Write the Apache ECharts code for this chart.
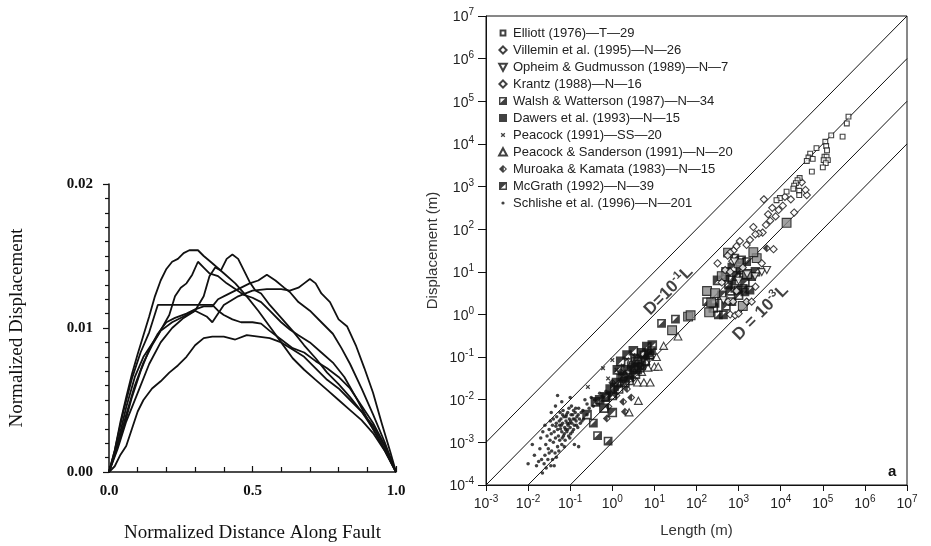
<!DOCTYPE html>
<html>
<head>
<meta charset="utf-8">
<script src="https://cdn.jsdelivr.net/npm/echarts@6/dist/echarts.min.js"></script>
<style>
  html, body { margin: 0; padding: 0; background: #fff; }
  #chart { width: 931px; height: 546px; }
</style>
</head>
<body>
<div id="chart"></div>
<script>
// ---------- Left panel: normalized displacement profiles [distance, displacement] ----------
const profileA = [[0,0],[0.02,0.0015],[0.04,0.0035],[0.06,0.0052],[0.08,0.0068],[0.1,0.0082],[0.12,0.0095],[0.14,0.0108],[0.16,0.0122],[0.18,0.0133],[0.2,0.0141],[0.22,0.0146],[0.24,0.0148],[0.26,0.0152],[0.28,0.0154],[0.31,0.0154],[0.33,0.0150],[0.36,0.0145],[0.4,0.0138],[0.44,0.0131],[0.48,0.0122],[0.52,0.0112],[0.56,0.0101],[0.6,0.0090],[0.64,0.0079],[0.68,0.0071],[0.72,0.0064],[0.76,0.0057],[0.8,0.0050],[0.84,0.0043],[0.88,0.0036],[0.92,0.0027],[0.96,0.0015],[1,0]];
const profileB = [[0,0],[0.03,0.0020],[0.06,0.0045],[0.09,0.0066],[0.12,0.0080],[0.15,0.0089],[0.17,0.0095],[0.19,0.0102],[0.21,0.0109],[0.23,0.0122],[0.25,0.0128],[0.27,0.0131],[0.29,0.0137],[0.31,0.0146],[0.33,0.0142],[0.35,0.0138],[0.38,0.0136],[0.41,0.0131],[0.44,0.0127],[0.47,0.0123],[0.5,0.0121],[0.53,0.0118],[0.56,0.0112],[0.6,0.0104],[0.63,0.0099],[0.66,0.0095],[0.7,0.0090],[0.74,0.0083],[0.78,0.0076],[0.82,0.0066],[0.86,0.0052],[0.9,0.0037],[0.95,0.0019],[1,0]];
const profileC = [[0,0],[0.03,0.0016],[0.06,0.0035],[0.1,0.0055],[0.14,0.0075],[0.18,0.0090],[0.22,0.0100],[0.26,0.0107],[0.3,0.0112],[0.33,0.0122],[0.35,0.0136],[0.37,0.0142],[0.39,0.0140],[0.41,0.0148],[0.43,0.0151],[0.45,0.0148],[0.47,0.0140],[0.49,0.0132],[0.51,0.0126],[0.53,0.0124],[0.56,0.0116],[0.6,0.0107],[0.64,0.0098],[0.68,0.0088],[0.72,0.0079],[0.76,0.0069],[0.8,0.0061],[0.84,0.0052],[0.88,0.0042],[0.92,0.0030],[0.96,0.0016],[1,0]];
const profileD = [[0,0],[0.02,0.0012],[0.05,0.0030],[0.08,0.0052],[0.11,0.0070],[0.14,0.0085],[0.17,0.0096],[0.2,0.0104],[0.23,0.0107],[0.27,0.0110],[0.3,0.0113],[0.33,0.0115],[0.36,0.0115],[0.38,0.0120],[0.41,0.0123],[0.45,0.0127],[0.49,0.0131],[0.52,0.0133],[0.55,0.0137],[0.58,0.0133],[0.61,0.0128],[0.63,0.0125],[0.66,0.0118],[0.7,0.0112],[0.74,0.0104],[0.78,0.0096],[0.81,0.0086],[0.84,0.0075],[0.88,0.0058],[0.92,0.0040],[0.96,0.0021],[1,0]];
const profileE = [[0,0],[0.03,0.0018],[0.06,0.0040],[0.09,0.0060],[0.12,0.0076],[0.15,0.0088],[0.18,0.0098],[0.22,0.0104],[0.26,0.0108],[0.3,0.0112],[0.34,0.0108],[0.36,0.0104],[0.4,0.0116],[0.45,0.0122],[0.5,0.0126],[0.55,0.0127],[0.6,0.0127],[0.63,0.0126],[0.66,0.0128],[0.68,0.0131],[0.7,0.0134],[0.72,0.0131],[0.74,0.0124],[0.77,0.0118],[0.8,0.0106],[0.83,0.0101],[0.86,0.0088],[0.89,0.0072],[0.92,0.0055],[0.95,0.0034],[0.98,0.0014],[1,0]];
const profileF = [[0,0],[0.02,0.0015],[0.05,0.0042],[0.08,0.0065],[0.11,0.0083],[0.14,0.0097],[0.17,0.0116],[0.2,0.0116],[0.25,0.0116],[0.3,0.0116],[0.36,0.0116],[0.38,0.0112],[0.4,0.0109],[0.43,0.0106],[0.46,0.0104],[0.5,0.0104],[0.53,0.0103],[0.56,0.0098],[0.6,0.0092],[0.64,0.0086],[0.68,0.0083],[0.72,0.0077],[0.76,0.0072],[0.8,0.0066],[0.84,0.0058],[0.88,0.0046],[0.92,0.0034],[0.96,0.0019],[1,0]];
const profileG = [[0,0],[0.02,0.0004],[0.04,0.0012],[0.06,0.0018],[0.08,0.0030],[0.1,0.0042],[0.12,0.0050],[0.15,0.0058],[0.18,0.0063],[0.21,0.0069],[0.24,0.0074],[0.27,0.0080],[0.3,0.0088],[0.33,0.0093],[0.36,0.0094],[0.4,0.0094],[0.44,0.0092],[0.48,0.0095],[0.52,0.0094],[0.56,0.0093],[0.6,0.0090],[0.64,0.0085],[0.68,0.0080],[0.72,0.0072],[0.76,0.0064],[0.8,0.0058],[0.84,0.0050],[0.88,0.0042],[0.92,0.0032],[0.96,0.0018],[1,0]];
const profiles = [profileA, profileB, profileC, profileD, profileE, profileF, profileG];

// ---------- Right panel: fault data sets, [log10 length (m), log10 displacement (m)] ----------
const elliottLog = [[5.61,4.64],[5.57,4.48],[5.47,4.17],[5.06,4.05],[5.08,3.95],[5.10,3.85],[5.04,3.70],[5.09,3.70],[5.12,3.62],[5.02,3.62],[5.07,3.55],[4.70,3.77],[4.66,3.68],[4.62,3.60],[4.76,3.65],[4.74,3.35],[4.45,3.20],[4.40,3.15],[4.36,3.08],[4.32,3.02],[4.30,2.95],[4.44,2.90],[4.44,2.80],[4.14,2.88],[3.98,2.73],[3.90,2.68],[5.20,4.20],[4.85,3.90],[5.00,3.45]];
const villeminLog = [[4.62,2.80],[4.59,2.92],[4.50,3.10],[4.24,2.70],[4.10,2.76],[4.32,2.39],[3.95,2.45],[3.88,2.30],[3.80,2.50],[3.75,2.20],[3.70,2.35],[3.65,2.10],[3.57,1.92],[3.48,1.90],[3.40,1.88],[3.83,1.53],[3.27,1.75],[3.19,1.63],[3.03,1.72],[2.95,1.60],[2.88,1.50],[2.80,1.45],[2.74,1.38],[3.60,2.70],[4.05,2.55],[3.35,2.05]];
const opheimLog = [[2.64,0.34],[3.00,0.80],[3.20,0.95],[3.39,0.90],[3.55,1.00],[3.67,1.05],[2.90,1.25]];
const krantzLog = [[2.80,0.00],[2.92,-0.02],[3.00,0.02],[2.75,0.30],[2.87,0.30],[3.19,0.30],[3.31,0.30],[2.68,1.04],[2.80,1.00],[3.55,1.20],[2.95,0.55],[2.60,0.75],[3.10,1.10],[2.50,1.20],[2.85,1.25],[3.40,0.65]];
const walshLog = [[-0.35,-2.84],[-0.10,-2.97],[-0.45,-2.55],[1.17,-0.21],[1.50,-0.11],[0.93,-0.85],[0.85,-0.90],[0.75,-0.95],[0.55,-1.10],[0.60,-1.30],[0.40,-1.40],[0.20,-1.50],[0.05,-1.70],[-0.15,-1.95],[0.70,-1.20],[0.45,-1.20],[2.24,0.30],[2.44,0.26],[2.52,-0.01],[2.64,-0.01],[2.84,0.30],[3.11,0.61],[3.15,0.53],[2.91,1.32],[3.07,1.28],[3.19,1.24],[2.68,0.89],[2.84,0.81],[2.76,0.69],[2.91,0.61],[2.99,0.57],[3.27,0.57],[3.11,0.92],[3.31,0.89]];
const dawersLog = [[1.80,-0.05],[1.86,-0.02],[1.42,-0.37],[2.25,0.55],[2.44,0.50],[2.60,0.90],[3.43,1.32],[4.14,2.15],[3.35,1.46],[3.00,1.20],[2.30,0.05],[3.10,0.20],[2.35,0.28],[3.20,0.95],[2.75,1.45]];
const peacockLog = [[-0.58,-1.70],[-0.22,-1.26],[0.00,-1.07],[0.10,-1.30],[0.25,-1.20],[-0.10,-1.50],[0.35,-1.05],[0.50,-0.95]];
const sandersonLog = [[0.40,-2.30],[0.62,-2.03],[0.60,-1.60],[0.75,-1.60],[0.90,-1.60],[1.00,-1.23],[1.09,-1.23],[1.22,-0.74],[1.56,-0.52],[0.30,-1.40],[0.45,-1.15],[0.60,-1.00],[0.80,-1.10],[0.90,-0.95],[0.50,-1.30],[0.20,-1.60],[0.70,-1.35],[0.85,-1.25],[0.40,-1.50],[1.05,-1.00]];
const muroakaLog = [[-0.13,-2.44],[-0.09,-2.16],[0.30,-2.28],[0.26,-2.05],[0.10,-1.90],[0.35,-1.75],[0.00,-1.60],[0.50,-1.50],[0.20,-1.35],[0.65,-1.20],[3.67,1.55],[3.20,0.30],[0.80,-1.00],[-0.05,-1.85],[0.45,-1.95]];
const mcgrathLog = [[-0.30,-2.00],[-0.40,-2.05],[-0.17,-1.93],[-0.05,-1.75],[0.00,-1.90],[0.10,-1.60],[0.15,-1.75],[0.25,-1.45],[0.30,-1.60],[0.35,-1.30],[0.40,-1.55],[0.50,-1.25],[0.55,-1.40],[0.60,-1.05],[0.65,-1.25],[0.70,-0.90],[0.78,-1.10],[0.82,-0.75],[0.88,-0.95],[0.95,-0.72],[0.50,-0.85],[0.35,-0.95],[0.20,-1.10],[0.12,-1.30],[-0.60,-2.35],[-0.20,-2.20],[0.00,-2.30],[2.50,0.80],[2.70,1.00],[2.95,0.90],[3.05,1.05],[2.60,0.45],[2.80,0.55],[3.00,0.45],[3.15,0.75],[2.40,0.15],[2.70,0.20],[3.40,1.00],[2.85,1.10]];
const schlisheLog = [
  [-1.55,-2.85],[-1.50,-2.70],[-1.48,-2.95],[-1.45,-2.80],[-1.42,-2.60],[-1.40,-3.00],[-1.38,-2.75],[-1.35,-2.90],[-1.33,-2.55],[-1.30,-2.70],
  [-1.30,-3.10],[-1.28,-2.85],[-1.25,-2.60],[-1.25,-2.95],[-1.22,-2.45],[-1.20,-2.75],[-1.20,-3.05],[-1.18,-2.55],[-1.16,-2.85],[-1.15,-2.40],
  [-1.13,-2.65],[-1.12,-2.95],[-1.10,-2.50],[-1.08,-2.75],[-1.06,-2.30],[-1.05,-2.60],[-1.04,-2.85],[-1.02,-2.45],[-1.00,-2.65],[-0.98,-2.35],
  [-0.96,-2.55],[-0.95,-2.75],[-0.93,-2.45],[-0.90,-2.60],[-0.88,-2.30],[-0.86,-2.50],[-0.84,-2.40],[-0.82,-2.65],[-0.80,-2.20],[-0.78,-2.45],
  [-1.60,-2.60],[-1.58,-3.05],[-1.52,-3.15],[-1.47,-2.50],[-1.44,-3.20],[-1.40,-2.45],[-1.36,-3.25],[-1.32,-2.40],[-1.27,-3.20],[-1.24,-2.30],
  [-1.21,-2.60],[-1.19,-2.90],[-1.17,-2.25],[-1.14,-3.10],[-1.11,-2.70],[-1.09,-2.35],[-1.07,-2.55],[-1.03,-2.20],[-1.01,-2.90],[-0.99,-2.50],
  [-0.97,-2.15],[-0.94,-2.35],[-0.92,-2.70],[-0.89,-2.45],[-0.87,-2.20],[-0.85,-2.60],[-0.81,-2.35],[-0.76,-2.55],[-0.74,-2.30],[-0.72,-2.50],
  [-0.70,-2.25],[-0.68,-2.45],[-1.85,-3.30],[-1.80,-3.55],[-1.75,-3.45],[-1.72,-3.15],[-1.68,-3.40],[-1.66,-3.72],[-1.62,-3.50],[-1.60,-3.30],
  [-1.57,-3.60],[-1.53,-3.40],[-1.50,-3.25],[-1.46,-3.55],[-1.42,-3.40],[-1.38,-3.55],[-1.33,-3.35],[-1.70,-2.90],[-1.65,-2.75],[-1.20,-2.05],
  [-1.35,-2.15],[-1.45,-2.30],[-0.90,-3.05],[-0.80,-3.10],[-0.65,-2.00],[-0.60,-2.10],[-0.55,-2.20],[-0.50,-1.95],[-0.45,-2.15],[-0.42,-2.00],
  [-0.35,-2.10],[-0.30,-1.85],[-0.25,-2.05],[-0.20,-1.95],[-0.15,-1.80],[-1.30,-1.90],[-1.00,-1.95],[-2.00,-3.50],[-1.90,-3.05],[-0.60,-2.35],
  [-1.26,-2.50],[-1.14,-2.80],[-1.06,-2.70],[-0.99,-2.80],[-1.23,-2.68],[-1.34,-2.62],[-1.10,-2.40],[-0.92,-2.25],[-1.18,-2.35],[-1.02,-2.55]
];

// Reference lines D = 10^k · L, given by k
const refLineExps = [0, -1, -2, -3];
// Line captions [log10 L, log10 D, rich text]
const lineTags = [[1.32, 0.57, '{m|D=10}{s|-1}{m|L}'], [3.51, 0.06, '{m|D = 10}{s|-3}{m|L}']];

const legendNames = [
  'Elliott (1976)\u2014T\u201429',
  'Villemin et al. (1995)\u2014N\u201426',
  'Opheim & Gudmusson (1989)\u2014N\u20147',
  'Krantz (1988)\u2014N\u201416',
  'Walsh & Watterson (1987)\u2014N\u201434',
  'Dawers et al. (1993)\u2014N\u201415',
  'Peacock (1991)\u2014SS\u201420',
  'Peacock & Sanderson (1991)\u2014N\u201420',
  'Muroaka & Kamata (1983)\u2014N\u201415',
  'McGrath (1992)\u2014N\u201439',
  'Schlishe et al. (1996)\u2014N\u2014201'
];

// ---------- helpers ----------
const serif = "'Liberation Serif', 'Times New Roman', serif";
const sans = "'Liberation Sans', Arial, Helvetica, sans-serif";

// Marker shapes, drawn in a 10x10 frame (leading moves fix the frame)
const SYM = {
  smallSquare: 'path://M0 0M10 10M2.6 2.6H7.4V7.4H2.6Z',
  diamond: 'path://M0 0M10 10M5 1.4L8.6 5L5 8.6L1.4 5Z',
  triDown: 'path://M0 0M10 10M1.2 1.8H8.8L5 8.8Z',
  halfSquareLR: 'path://M0 0M10 10M1 1H9V9H1ZM2.4 2.4V7.1L7.1 2.4Z',
  fullSquare: 'path://M0 0M10 10M1 1H9V9H1Z',
  cross: 'path://M0 0M10 10M3.2 3.2L6.8 6.8M6.8 3.2L3.2 6.8',
  triUp: 'path://M0 0M10 10M5 1.2L8.9 8.4H1.1Z',
  halfDiamond: 'path://M0 0M10 10M5 1L9 5L5 9L1 5ZM5.8 3.3V6.7L7.5 5Z',
  halfSquareUL: 'path://M0 0M10 10M1 1H9V9H1ZM7.6 7.6V2.9L2.9 7.6Z',
  dot: 'path://M0 0M10 10M3.4 5A1.6 1.6 0 1 0 6.6 5A1.6 1.6 0 1 0 3.4 5Z'
};

const open = { color: '#fff', borderColor: '#111', borderWidth: 1.1 };
const solid = { color: '#111', borderWidth: 0 };
const crossStyle = { color: 'rgba(0,0,0,0)', borderColor: '#111', borderWidth: 1.3 };

function scatter(name, pairs, symbol, size, style, z) {
  return {
    name, type: 'scatter', xAxisIndex: 1, yAxisIndex: 1,
    data: pairs, symbol, symbolSize: size,
    itemStyle: style, z: z || 3, silent: true, animation: false
  };
}

const supFmt = v => '{b|10}{s|' + Math.round(v) + '}';
const supRich = {
  b: { fontSize: 14, fontFamily: sans, color: '#222', verticalAlign: 'bottom' },
  s: { fontSize: 10, fontFamily: sans, color: '#222', verticalAlign: 'bottom', padding: [0, 0, 7, 0] }
};

// ---------- series ----------
const series = [];

profiles.forEach(p => series.push({
  type: 'line', xAxisIndex: 0, yAxisIndex: 0, data: p,
  symbol: 'none', lineStyle: { color: '#111', width: 1.8 }, silent: true, animation: false
}));

const xLogMin = -3, xLogMax = 7, yLogMin = -4, yLogMax = 7;
refLineExps.forEach(k => {
  const start = Math.max(xLogMin, yLogMin - k);
  series.push({
    type: 'line', xAxisIndex: 1, yAxisIndex: 1,
    data: [[start, start + k], [xLogMax, xLogMax + k]],
    symbol: 'none', lineStyle: { color: '#111', width: 1 }, silent: true, animation: false, z: 2
  });
});

series.push({
  type: 'scatter', xAxisIndex: 1, yAxisIndex: 1, silent: true, animation: false, z: 5,
  data: lineTags.map(t => ({ value: [t[0], t[1]], tag: t[2] })),
  symbolSize: 0,
  label: {
    show: true, position: 'inside', rotate: 45,
    formatter: p => p.data.tag,
    rich: {
      m: { fontSize: 17, fontWeight: 'bold', fontFamily: sans, color: '#111', verticalAlign: 'bottom' },
      s: { fontSize: 11, fontWeight: 'bold', fontFamily: sans, color: '#111', verticalAlign: 'bottom', padding: [0, 0, 8, 0] }
    }
  }
});

series.push(scatter(legendNames[10], schlisheLog, SYM.dot, 11, solid, 3));
series.push(scatter(legendNames[6], peacockLog, SYM.cross, 10, crossStyle, 3));
series.push(scatter(legendNames[7], sandersonLog, SYM.triUp, 10, open, 3));
series.push(scatter(legendNames[9], mcgrathLog, SYM.halfSquareUL, 12, solid, 4));
series.push(scatter(legendNames[4], walshLog, SYM.halfSquareLR, 11, solid, 4));
series.push(scatter(legendNames[5], dawersLog, SYM.fullSquare, 11, { color: '#8a8a8a', borderColor: '#111', borderWidth: 1.1 }, 4));
series.push(scatter(legendNames[8], muroakaLog, SYM.halfDiamond, 10, solid, 4));
series.push(scatter(legendNames[3], krantzLog, SYM.diamond, 10, open, 4));
series.push(scatter(legendNames[2], opheimLog, SYM.triDown, 10, open, 4));
series.push(scatter(legendNames[1], villeminLog, SYM.diamond, 10, open, 4));
series.push(scatter(legendNames[0], elliottLog, SYM.smallSquare, 10, open, 4));

const legendData = legendNames.map(n => {
  if (n.indexOf('Dawers') === 0) return { name: n, itemStyle: { color: '#111', borderWidth: 0 } };
  if (n.indexOf('Peacock (') === 0) return { name: n, icon: SYM.cross, itemStyle: crossStyle };
  return n;
});

// ---------- chart ----------
const chart = echarts.init(document.getElementById('chart'), null, { renderer: 'canvas' });
chart.setOption({
  backgroundColor: '#fff',
  animation: false,
  grid: [
    { left: 109, top: 184, width: 287, height: 288, containLabel: false, outerBoundsMode: 'none' },
    { left: 486, top: 16, width: 421, height: 469, containLabel: false, outerBoundsMode: 'none',
      show: true, borderColor: '#111', borderWidth: 1, backgroundColor: 'transparent' }
  ],
  legend: {
    data: legendData,
    orient: 'vertical', left: 497, top: 26, padding: 0,
    itemWidth: 10, itemHeight: 10, itemGap: 3, selectedMode: false,
    textStyle: { fontFamily: sans, fontSize: 13, color: '#222', lineHeight: 14 }
  },
  xAxis: [
    {
      gridIndex: 0, type: 'value', min: 0, max: 1, interval: 0.5,
      name: 'Normalized Distance Along Fault', nameLocation: 'middle', nameGap: 52,
      nameTextStyle: { fontFamily: serif, fontSize: 19, color: '#111' },
      axisLine: { lineStyle: { color: '#111', width: 1.5 } },
      axisTick: { inside: true, length: 6, lineStyle: { color: '#111', width: 1.2 } },
      minorTick: { show: true, splitNumber: 5, length: 5, lineStyle: { color: '#111', width: 1.2 } },
      axisLabel: { formatter: v => v.toFixed(1), fontFamily: serif, fontWeight: 'bold', fontSize: 15, color: '#111', margin: 12 },
      splitLine: { show: false }
    },
    {
      gridIndex: 1, type: 'value', min: xLogMin, max: xLogMax, interval: 1,
      name: 'Length (m)', nameLocation: 'middle', nameGap: 38,
      nameTextStyle: { fontFamily: sans, fontSize: 15, color: '#333' },
      axisLine: { onZero: false, lineStyle: { color: '#111', width: 1 } },
      axisTick: { inside: false, length: 6, lineStyle: { color: '#111' } },
      axisLabel: { formatter: supFmt, rich: supRich, margin: 9, showMinLabel: true, showMaxLabel: true },
      splitLine: { show: false }, minorTick: { show: false }
    }
  ],
  yAxis: [
    {
      gridIndex: 0, type: 'value', min: 0, max: 0.02, interval: 0.01,
      name: 'Normalized Displacement', nameLocation: 'middle', nameGap: 82,
      nameTextStyle: { fontFamily: serif, fontSize: 19, color: '#111' },
      axisLine: { lineStyle: { color: '#111', width: 1.5 } },
      axisTick: { inside: false, length: 6, lineStyle: { color: '#111', width: 1.2 } },
      minorTick: { show: true, splitNumber: 10, length: 4, lineStyle: { color: '#111', width: 1.2 } },
      axisLabel: { formatter: v => v.toFixed(2), fontFamily: serif, fontWeight: 'bold', fontSize: 15, color: '#111', margin: 16 },
      splitLine: { show: false }
    },
    {
      gridIndex: 1, type: 'value', min: yLogMin, max: yLogMax, interval: 1,
      name: 'Displacement (m)', nameLocation: 'middle', nameGap: 46,
      nameTextStyle: { fontFamily: sans, fontSize: 15, color: '#333' },
      axisLine: { onZero: false, lineStyle: { color: '#111', width: 1 } },
      axisTick: { inside: false, length: 8, lineStyle: { color: '#111' } },
      axisLabel: { formatter: supFmt, rich: supRich, margin: 12, align: 'right' },
      splitLine: { show: false }, minorTick: { show: false }
    }
  ],
  graphic: [
    { type: 'text', left: 888, top: 464, style: { text: 'a', font: 'bold 15px ' + sans, fill: '#111' } }
  ],
  series
});
</script>
</body>
</html>
